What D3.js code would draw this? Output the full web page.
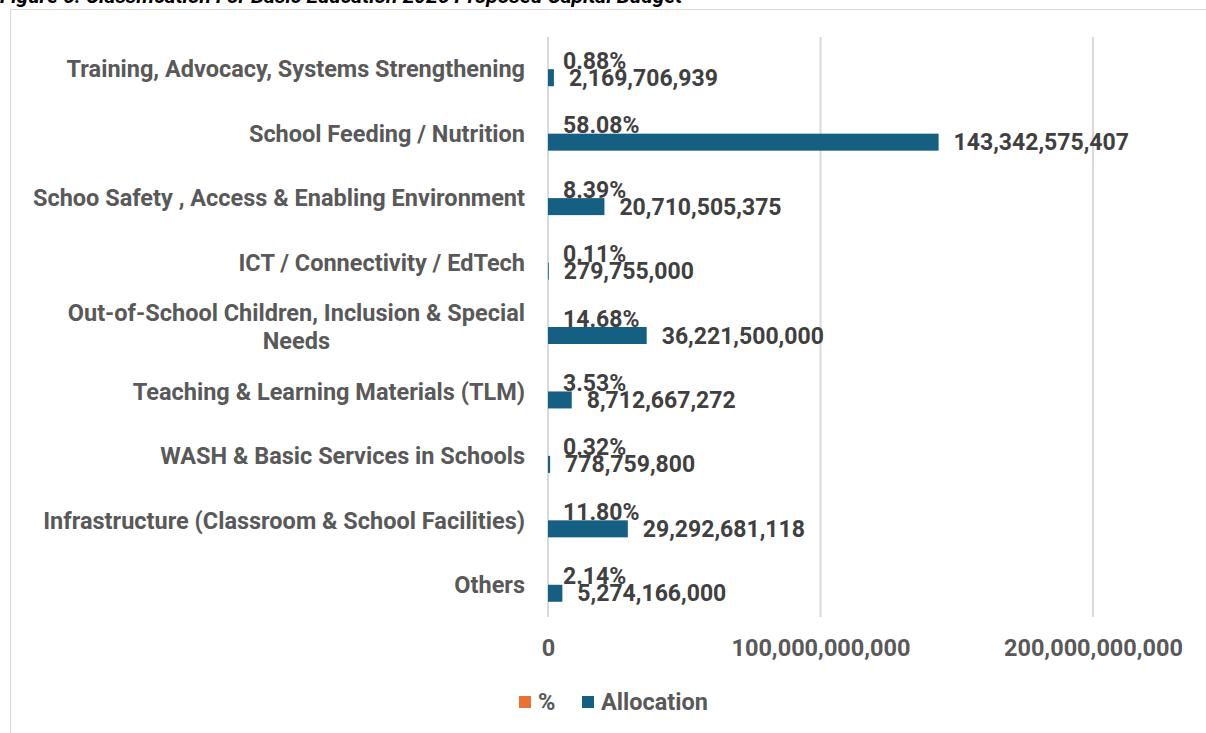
<!DOCTYPE html>
<html>
<head>
<meta charset="utf-8">
<script src="https://cdn.jsdelivr.net/npm/d3@7"></script>
<style>
  body { margin: 0; background: #fff; }
  text { font-family: Roboto, "Noto Sans", sans-serif; font-weight: bold; }
</style>
</head>
<body>
<svg width="1206" height="733"></svg>
<script>
// categories, top to bottom as drawn
var categories = [
  ["Training, Advocacy, Systems Strengthening"],
  ["School Feeding / Nutrition"],
  ["Schoo Safety , Access & Enabling Environment"],
  ["ICT / Connectivity / EdTech"],
  ["Out-of-School Children, Inclusion & Special", "Needs"],
  ["Teaching & Learning Materials (TLM)"],
  ["WASH & Basic Services in Schools"],
  ["Infrastructure (Classroom & School Facilities)"],
  ["Others"]
];
var allocation = [2169706939, 143342575407, 20710505375, 279755000, 36221500000,
                  8712667272, 778759800, 29292681118, 5274166000];
var percent = [0.0088, 0.5808, 0.0839, 0.0011, 0.1468, 0.0353, 0.0032, 0.1180, 0.0214];
var xTicks = [0, 100000000000, 200000000000];
var legendItems = ["%", "Allocation"];

var svg = d3.select("svg"),
    width = +svg.attr("width"),
    height = +svg.attr("height");

var blue = "#156082", orange = "#E97132";

// chart border
svg.append("rect")
    .attr("x", 10.5).attr("y", 9.5)
    .attr("width", 1220).attr("height", 760)
    .attr("fill", "none").attr("stroke", "#d9d9d9");

// title, cut off at top like the source
svg.append("text")
    .attr("x", 0).attr("y", 3)
    .attr("font-size", 21).attr("font-style", "italic")
    .attr("fill", "#000")
    .text("Figure 6: Classification For Basic Education 2026 Proposed Capital Budget");

var x = d3.scaleLinear().domain([0, 200000000000]).range([548, 1093]);
var y = d3.scaleBand().domain(d3.range(categories.length)).range([37, 617]);
var barH = 17;

// gridlines
svg.append("g")
    .selectAll("line")
    .data(xTicks)
    .enter().append("line")
    .attr("x1", function(d) { return x(d); })
    .attr("x2", function(d) { return x(d); })
    .attr("y1", 37).attr("y2", 617)
    .attr("stroke", "#d9d9d9").attr("stroke-width", 2);

// x axis labels
var xAxis = svg.append("g")
    .attr("transform", "translate(0,648)")
    .call(d3.axisBottom(x).tickValues(xTicks).tickSize(0).tickFormat(d3.format(",")));
xAxis.select(".domain").remove();
xAxis.selectAll("text")
    .attr("font-size", 23.5).attr("fill", "#595959")
    .attr("dy", "0.35em").attr("y", 0)
    .style("font-family", "Roboto, sans-serif").style("font-weight", "bold");

// category labels
var catLabels = svg.append("g")
    .selectAll("text")
    .data(categories)
    .enter().append("text")
    .attr("text-anchor", "middle")
    .attr("font-size", 23.5)
    .attr("fill", "#595959")
    .attr("transform", function(d, i) {
        return "translate(0," + (y(i) + y.bandwidth() / 2) + ")";
    });
catLabels.each(function(lines) {
    var t = d3.select(this);
    var n = lines.length;
    lines.forEach(function(s, k) {
        t.append("tspan")
            .attr("x", 0)
            .attr("y", (k - (n - 1) / 2) * 28)
            .attr("dy", "0.35em")
            .text(s);
    });
});
// right-align block, centre lines within it (like Excel wrapped labels)
catLabels.each(function() {
    var w = this.getBBox().width;
    var tr = d3.select(this).attr("transform");
    d3.select(this).attr("transform", tr.replace("translate(0,", "translate(" + (525 - w / 2) + ","));
});

// % bars (tiny on this axis)
svg.append("g")
    .selectAll("rect")
    .data(percent)
    .enter().append("rect")
    .attr("x", x(0))
    .attr("y", function(d, i) { return y(i) + y.bandwidth() / 2 - barH; })
    .attr("width", function(d) { return x(d) - x(0); })
    .attr("height", barH)
    .attr("fill", orange);

// allocation bars
svg.append("g")
    .selectAll("rect")
    .data(allocation)
    .enter().append("rect")
    .attr("x", x(0))
    .attr("y", function(d, i) { return y(i) + y.bandwidth() / 2; })
    .attr("width", function(d) { return x(d) - x(0); })
    .attr("height", barH)
    .attr("fill", blue);

// % labels
svg.append("g")
    .selectAll("text")
    .data(percent)
    .enter().append("text")
    .attr("x", function(d) { return x(d) + 15; })
    .attr("y", function(d, i) { return y(i) + y.bandwidth() / 2 - barH / 2; })
    .attr("dy", "0.35em")
    .attr("font-size", 23).attr("fill", "#404040")
    .text(function(d) { return d3.format(".2%")(d); });

// allocation labels
svg.append("g")
    .selectAll("text")
    .data(allocation)
    .enter().append("text")
    .attr("x", function(d) { return x(d) + 15; })
    .attr("y", function(d, i) { return y(i) + y.bandwidth() / 2 + barH / 2; })
    .attr("dy", "0.35em")
    .attr("font-size", 23).attr("fill", "#404040")
    .text(function(d) { return d3.format(",")(d); });

// legend
var legend = svg.append("g").attr("transform", "translate(519,702)");
var lx = [0, 63];
legendItems.forEach(function(name, i) {
    var g = legend.append("g").attr("transform", "translate(" + lx[i] + ",0)");
    g.append("rect").attr("x", 0).attr("y", -6).attr("width", 12).attr("height", 12)
        .attr("fill", i === 0 ? orange : blue);
    g.append("text").attr("x", 19).attr("dy", "0.35em")
        .attr("font-size", 23.5).attr("fill", "#595959").text(name);
});
</script>
</body>
</html>
